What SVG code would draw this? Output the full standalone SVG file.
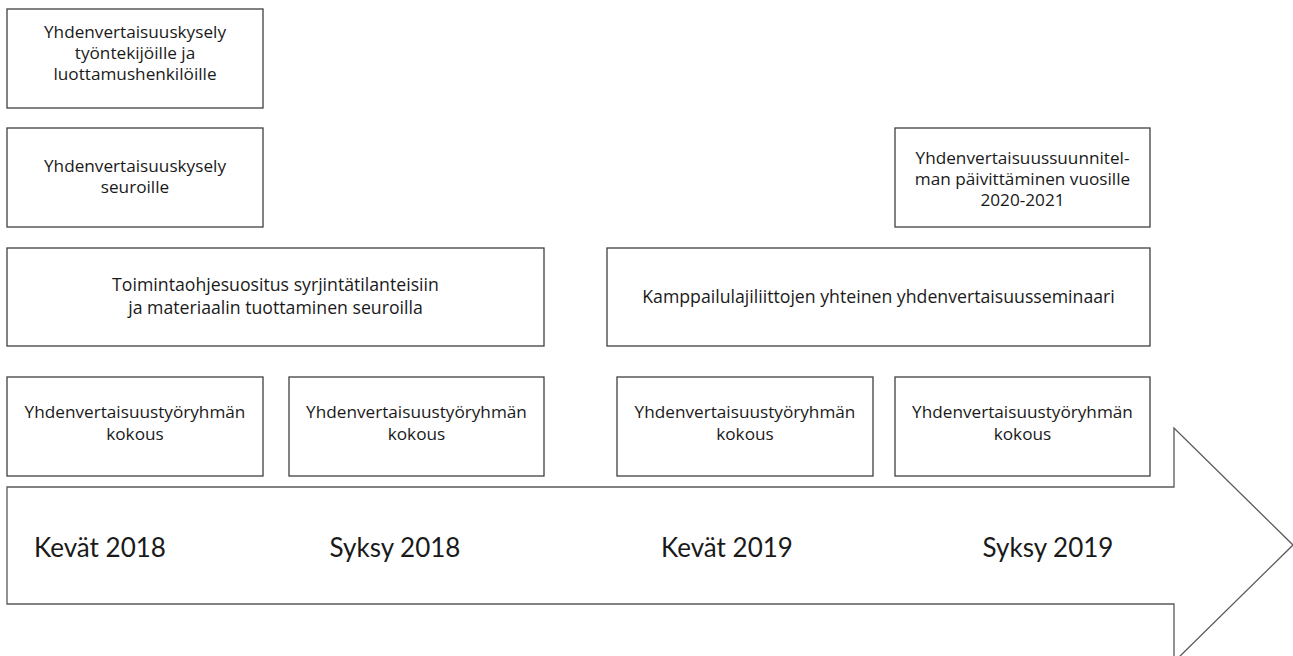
<svg xmlns="http://www.w3.org/2000/svg" width="1293" height="656" viewBox="0 0 1293 656">
<style>
  .box { fill: #ffffff; stroke: #404040; stroke-width: 1.3; }
  .t { font-family: "Open Sans", Lato, sans-serif; font-size: 17.2px; fill: #1a1a1a; text-anchor: middle; }
  .t2 { font-family: "Open Sans", Lato, sans-serif; font-size: 17.7px; fill: #1a1a1a; text-anchor: middle; }
  .lbl { font-family: Lato, "Open Sans", sans-serif; font-size: 26px; fill: #1a1a1a; text-anchor: middle; }
</style>
<rect width="1293" height="656" fill="#ffffff"/>
<g id="timeline-arrow">
  <polygon points="7,487 1174,487 1174,428 1293,545 1174,662 1174,604 7,604" fill="#ffffff" stroke="#595959" stroke-width="1.3"/>
  <text class="lbl" x="100" y="557">Kevät 2018</text>
  <text class="lbl" x="395" y="557">Syksy 2018</text>
  <text class="lbl" x="727" y="557">Kevät 2019</text>
  <text class="lbl" x="1048" y="557">Syksy 2019</text>
</g>
<g id="connectors"></g>
<g id="kysely-tyontekijat">
  <rect class="box" x="7" y="9" width="256" height="99"/>
  <text class="t"><tspan x="135" y="37.5">Yhdenvertaisuuskysely</tspan><tspan x="135" y="58.5">työntekijöille ja</tspan><tspan x="135" y="79.5">luottamushenkilöille</tspan></text>
</g>
<g id="kysely-seurat">
  <rect class="box" x="7" y="128" width="256" height="99"/>
  <text class="t"><tspan x="135" y="171.5">Yhdenvertaisuuskysely</tspan><tspan x="135" y="192.5">seuroille</tspan></text>
</g>
<g id="toimintaohje">
  <rect class="box" x="7" y="248" width="537" height="98"/>
  <text class="t2"><tspan x="275.5" y="291">Toimintaohjesuositus syrjintätilanteisiin</tspan><tspan x="275.5" y="314">ja materiaalin tuottaminen seuroilla</tspan></text>
</g>
<g id="seminaari">
  <rect class="box" x="607" y="248" width="543" height="98"/>
  <text class="t2" x="878.5" y="303">Kamppailulajiliittojen yhteinen yhdenvertaisuusseminaari</text>
</g>
<g id="suunnitelma">
  <rect class="box" x="895" y="128" width="255" height="99"/>
  <text class="t"><tspan x="1022.5" y="164">Yhdenvertaisuussuunnitel-</tspan><tspan x="1022.5" y="185">man päivittäminen vuosille</tspan><tspan x="1022.5" y="206">2020-2021</tspan></text>
</g>
<g id="kokous-1">
  <rect class="box" x="7" y="377" width="256" height="99"/>
  <text class="t"><tspan x="135" y="418">Yhdenvertaisuustyöryhmän</tspan><tspan x="135" y="440">kokous</tspan></text>
</g>
<g id="kokous-2">
  <rect class="box" x="289" y="377" width="255" height="99"/>
  <text class="t"><tspan x="416.5" y="418">Yhdenvertaisuustyöryhmän</tspan><tspan x="416.5" y="440">kokous</tspan></text>
</g>
<g id="kokous-3">
  <rect class="box" x="617" y="377" width="256" height="99"/>
  <text class="t"><tspan x="745" y="418">Yhdenvertaisuustyöryhmän</tspan><tspan x="745" y="440">kokous</tspan></text>
</g>
<g id="kokous-4">
  <rect class="box" x="895" y="377" width="255" height="99"/>
  <text class="t"><tspan x="1022.5" y="418">Yhdenvertaisuustyöryhmän</tspan><tspan x="1022.5" y="440">kokous</tspan></text>
</g>
</svg>
